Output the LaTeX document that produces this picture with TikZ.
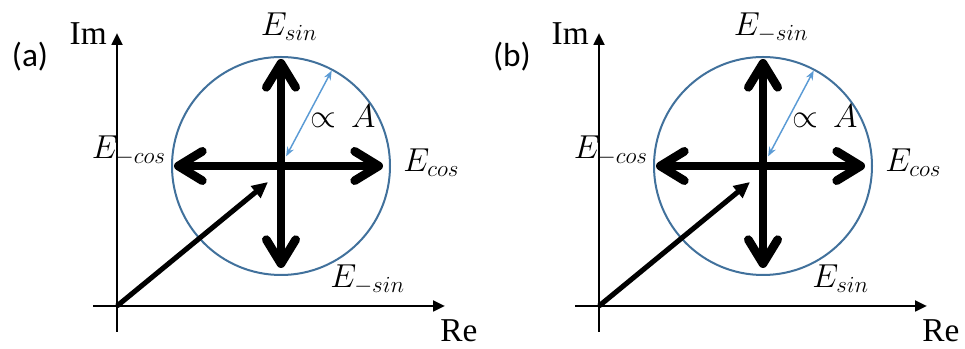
\documentclass[tikz,border=0pt]{standalone}
\usepackage{fontspec}
\setmainfont{Liberation Serif}
\newfontfamily\tagfont{Carlito}
\usetikzlibrary{arrows.meta, calc}
\definecolor{ringblue}{HTML}{41719C}
\definecolor{ampblue}{HTML}{5B9BD5}
\DeclareMathSizes{25}{25}{18.5}{13}

\begin{document}
\begin{tikzpicture}[
  x=0.75pt, y=0.75pt,
  axis/.style={line width=2pt, -{Triangle[length=9pt, width=8pt]}},
  ring/.style={draw=ringblue, line width=1.5pt},
  field/.style={
    line width=6.5pt, line cap=round,
    -{Straight Barb[length=18pt, width=22pt, line cap=round, line join=round]}
  },
  total/.style={line width=3.8pt, -{Triangle[length=12pt, width=11pt]}},
  amp/.style={
    draw=ampblue, line width=1.1pt,
    {Stealth[length=7pt, width=5.5pt]}-{Stealth[length=7pt, width=5.5pt]}
  },
  lbl/.style={font=\fontsize{25}{30}\selectfont, inner sep=0pt},
  axlbl/.style={font=\fontsize{25}{28}\selectfont, inner sep=0pt},
  tagtxt/.style={font=\tagfont\fontsize{25}{28}\selectfont, inner sep=0pt}
]
\useasboundingbox (0,0) rectangle (965,349);

% ----- deux panneaux : (a) et (b) -----
\foreach \dx/\tg/\upsub/\dnsub in {0/a/{sin}/{-sin}, 482/b/{-sin}/{sin}}{
  \begin{scope}[shift={(\dx,0)}]
    % repere
    \coordinate (o\tg)   at (117,43);
    \coordinate (imb\tg) at (117,17);
    \coordinate (imt\tg) at (117,316);
    \coordinate (rel\tg) at (93,43);
    \coordinate (rer\tg) at (445,43);
    \draw[axis] (imb\tg) -- (imt\tg);
    \draw[axis] (rel\tg) -- (rer\tg);

    % cercle et composantes
    \coordinate (c\tg)  at (281,183);
    \coordinate (up\tg) at (281,290);
    \coordinate (dn\tg) at (281,81);
    \coordinate (lf\tg) at (174,183);
    \coordinate (rt\tg) at (383,183);
    \draw[ring] (c\tg) circle (109);
    \draw[field] (c\tg) -- (up\tg);
    \draw[field] (c\tg) -- (dn\tg);
    \draw[field] (c\tg) -- (lf\tg);
    \draw[field] (c\tg) -- (rt\tg);

    % vecteur total et amplitude
    \coordinate (tip\tg) at (268,167);
    \draw[total] (o\tg) -- (tip\tg);
    \coordinate (aa\tg) at ($(c\tg)+(62:11)$);
    \coordinate (ab\tg) at ($(c\tg)+(62:108)$);
    \draw[amp] (aa\tg) -- (ab\tg);

    % textes
    \node[lbl, anchor=base] (top\tg) at (289,313) {$E_{\upsub}$};
    \node[lbl, anchor=base west] (bot\tg) at (330,61) {$E_{\dnsub}$};
    \node[lbl, anchor=base east] (lft\tg) at (166,190) {$E_{-cos}$};
    \node[lbl, anchor=base west] (rgt\tg) at (403,177) {$E_{cos}$};
    \node[lbl, anchor=base] (prop\tg) at (343,221) {$\propto\, A$};
    \node[axlbl, anchor=base east] (im\tg) at (107,304) {Im};
    \node[axlbl, anchor=base west] (re\tg) at (440,7) {Re};
    \node[tagtxt] (tag\tg) at (30,292) {(\tg)};
  \end{scope}
}
\end{tikzpicture}
\end{document}
